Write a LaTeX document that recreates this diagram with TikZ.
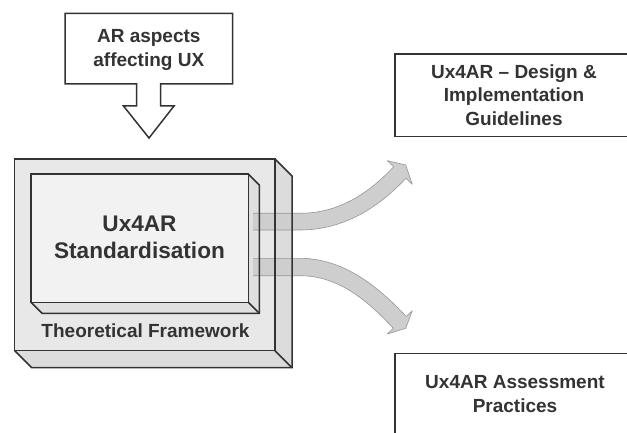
\documentclass[tikz,border=0pt]{standalone}
\usepackage{fontspec}
\setmainfont{Liberation Sans}
\definecolor{tinta}{RGB}{51,51,51}
\definecolor{marcof}{RGB}{232,232,232}
\definecolor{marcol}{RGB}{220,220,220}
\definecolor{cajaf}{RGB}{242,242,242}
\definecolor{cajal}{RGB}{224,224,224}
\definecolor{flf}{RGB}{206,206,206}
\definecolor{flb}{RGB}{150,150,150}
\tikzset{
  borde/.style={draw=tinta, line width=1.5pt, line join=miter},
  flecha/.style={fill=flf, draw=flb, line width=0.6pt, line join=round},
  rotulo/.style={font=\bfseries\fontsize{19}{23.3}\selectfont, text=tinta, align=center, inner sep=0pt},
  grande/.style={font=\bfseries\fontsize{22.6}{27}\selectfont, text=tinta, align=center, inner sep=0pt},
}
\begin{document}
\begin{tikzpicture}[x=1pt, y=-1pt]
  \useasboundingbox (0,0) rectangle (627,433);
  \clip (0,0) rectangle (627,433);
  \fill[white] (0,0) rectangle (627,433);

  % callout on top
  \draw[borde, fill=white] (65,13.3) -- (232.7,13.3) -- (232.7,84) -- (160.7,84) -- (160.7,106)
    -- (174,106) -- (149,138) -- (123.5,106) -- (136.7,106) -- (136.7,84) -- (65,84) -- cycle;
  \node[rotulo] (aspectos) at (148.8,50) {AR aspects\\affecting UX};

  % framework faces (fill only)
  \fill[marcof] (14.7,159) rectangle (275,350.7);
  \fill[marcol] (275,159) -- (292,176) -- (292,367.7) -- (275,350.7) -- cycle;
  \fill[marcol] (14.7,350.7) -- (275,350.7) -- (292,367.7) -- (31.7,367.7) -- cycle;
  \fill[cajaf] (31,174) rectangle (248.3,302.3);
  \fill[cajal] (248.3,174) -- (259.3,185) -- (259.3,313.3) -- (248.3,302.3) -- cycle;
  \fill[cajal] (31,302.3) -- (248.3,302.3) -- (259.3,313.3) -- (42,313.3) -- cycle;

  % block arrows
  \draw[flecha] (253,213.3) -- (300,213.3) .. controls (340,213.3) and (369.7,192.2) .. (393.7,166.7)
    -- (387.3,160.7) -- (405.7,165) -- (412.3,184.3) -- (405.9,178.3)
    .. controls (379.9,206) and (345,230) .. (300,230) -- (253,230);
  \draw[flecha] (253,258.3) -- (300,258.3) .. controls (345,258.3) and (380.2,288.8) .. (406.2,316.5)
    -- (412.3,310.7) -- (405.7,328.3) -- (387.3,334) -- (393.4,328.3)
    .. controls (369.5,302.8) and (340,275.7) .. (300,275.7) -- (253,275.7);

  % framework outlines
  \draw[borde] (14.7,159) rectangle (275,350.7);
  \draw[borde] (275,159) -- (292,176) -- (292,367.7) -- (31.7,367.7) -- (14.7,350.7);
  \draw[borde] (275,350.7) -- (292,367.7);
  \draw[borde] (31,174) rectangle (248.3,302.3);
  \draw[borde] (248.3,174) -- (259.3,185) -- (259.3,313.3) -- (42,313.3) -- (31,302.3);
  \draw[borde] (248.3,302.3) -- (259.3,313.3);
  \node[grande] (estandar) at (139.5,237.5) {Ux4AR\\Standardisation};
  \node[rotulo] (marco) at (145.5,330.7) {Theoretical Framework};

  % output boxes
  \draw[borde] (700,54) -- (395,54) -- (395,136.7) -- (700,136.7);
  \node[rotulo] (guias) at (514,95) {Ux4AR -- Design \&\\Implementation\\Guidelines};
  \draw[borde] (700,353.3) -- (395,353.3) -- (395,500);
  \node[rotulo] (evalua) at (515,394) {Ux4AR Assessment\\Practices};
\end{tikzpicture}
\end{document}
